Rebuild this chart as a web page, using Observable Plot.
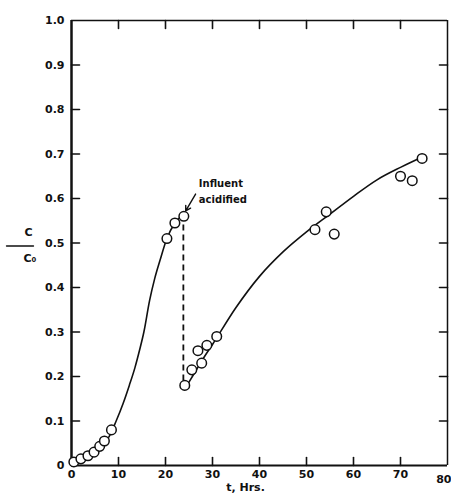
<!DOCTYPE html>
<html><head><meta charset="utf-8">
<script src="https://cdn.jsdelivr.net/npm/d3@7"></script>
<script src="https://cdn.jsdelivr.net/npm/@observablehq/plot@0.6"></script>
<style>
body{margin:0;background:#fff}
#chart{width:451px;height:498px}
#chart svg{font-family:"DejaVu Sans",sans-serif;font-weight:bold}
</style>
</head><body><div id="chart"></div>
<script>
// observed points, before acidification
const tBefore = [0.5, 2, 3.5, 4.8, 6, 7, 8.5, 20.3, 22, 23.9];
const cBefore = [0.008, 0.015, 0.022, 0.03, 0.043, 0.055, 0.08, 0.51, 0.545, 0.56];
// observed points, after acidification
const tAfter = [24.1, 25.6, 27.7, 26.9, 28.8, 30.9, 51.8, 54.2, 55.9, 70, 72.5, 74.6];
const cAfter = [0.18, 0.215, 0.23, 0.258, 0.27, 0.29, 0.53, 0.57, 0.52, 0.65, 0.64, 0.69];
// fitted curve 1
const curve1T = [0, 2, 4, 6, 8, 9.5, 11, 12.3, 13.5, 14.5, 15.4, 16.6, 17.7, 18.8, 20.3, 22, 24];
const curve1C = [0, 0.012, 0.025, 0.042, 0.065, 0.1, 0.14, 0.18, 0.22, 0.26, 0.3, 0.37, 0.42, 0.46, 0.51, 0.545, 0.565];
// fitted curve 2
const curve2T = [24, 26, 28, 30, 35, 40, 45, 50, 55, 60, 65, 70, 75];
const curve2C = [0.17, 0.205, 0.24, 0.272, 0.355, 0.425, 0.48, 0.525, 0.565, 0.605, 0.642, 0.67, 0.695];
// acidification marker
const acidT = 23.8;
const acidFrom = 0.19, acidTo = 0.56;
const noteLines = ["Influent", "acidified"];
const noteT = 27.1;
const noteC = [0.632, 0.596];
const arrowFrom = [26.4, 0.61], arrowTo = [24.3, 0.572];
// axes
const xTicks = [0, 10, 20, 30, 40, 50, 60, 70];
const xLastTick = 80;
const yTicks = [0, 0.1, 0.2, 0.3, 0.4, 0.5, 0.6, 0.7, 0.8, 0.9, 1.0];
const xInner = [10, 20, 30, 40, 50, 60, 70];
const yInner = [0.1, 0.2, 0.3, 0.4, 0.5, 0.6, 0.7, 0.8, 0.9];
const xLabel = "t, Hrs.";

const pts = (t, c) => t.map((d, i) => ({t: d, c: c[i]}));
const line = {draw(ctx, l) { ctx.moveTo(0, 0); ctx.lineTo(0, -l); }};

const chart = Plot.plot({
  width: 451, height: 498,
  marginLeft: 71, marginRight: 4, marginTop: 20, marginBottom: 33,
  x: {domain: [0, 80]},
  y: {domain: [0, 1]},
  style: {fontSize: "11px", color: "#111"},
  marks: [
    Plot.axisX({ticks: xTicks, tickSize: 0, tickPadding: 5, label: null, tickFormat: d => String(d)}),
    Plot.text([xLastTick], {x: d => d, frameAnchor: "bottom", dy: 10, dx: 4, textAnchor: "end", lineAnchor: "top", text: d => String(d), fontSize: 11, fill: "#111"}),
    Plot.axisY({ticks: yTicks, tickSize: 0, tickPadding: 7, label: null, tickFormat: d => d === 0 ? "0" : d.toFixed(1)}),
    // frame
    Plot.ruleX([0], {stroke: "#111", strokeWidth: 2.5}),
    Plot.ruleY([0], {stroke: "#111", strokeWidth: 2.2}),
    Plot.ruleY([1], {stroke: "#111", strokeWidth: 1.5}),
    Plot.ruleX([80], {stroke: "#111", strokeWidth: 1.5}),
    // inward ticks
    Plot.vector(yInner, {y: d => d, frameAnchor: "left", rotate: 90, length: 8, anchor: "start", shape: line, stroke: "#111", strokeWidth: 1.6}),
    Plot.vector(yInner, {y: d => d, frameAnchor: "right", rotate: 270, length: 8, anchor: "start", shape: line, stroke: "#111", strokeWidth: 1.6}),
    Plot.vector(xInner, {x: d => d, frameAnchor: "bottom", rotate: 0, length: 8, anchor: "start", shape: line, stroke: "#111", strokeWidth: 1.6}),
    Plot.vector(xInner, {x: d => d, frameAnchor: "top", rotate: 180, length: 8, anchor: "start", shape: line, stroke: "#111", strokeWidth: 1.6}),
    // curves
    Plot.line(pts(curve1T, curve1C), {x: "t", y: "c", curve: "monotone-x", stroke: "#111", strokeWidth: 1.6}),
    Plot.line(pts(curve2T, curve2C), {x: "t", y: "c", curve: "monotone-x", stroke: "#111", strokeWidth: 1.6}),
    Plot.ruleX([acidT], {y1: acidFrom, y2: acidTo, stroke: "#111", strokeWidth: 1.8, strokeDasharray: "6,4"}),
    // points
    Plot.dot(pts(tBefore, cBefore), {x: "t", y: "c", r: 4.8, stroke: "#111", fill: "white", strokeWidth: 1.5}),
    Plot.dot(pts(tAfter, cAfter), {x: "t", y: "c", r: 4.8, stroke: "#111", fill: "white", strokeWidth: 1.5}),
    // annotation
    Plot.text(noteLines, {x: noteT, y: (d, i) => noteC[i], text: d => d, textAnchor: "start", fontSize: 10, fill: "#111"}),
    Plot.arrow([0], {x1: arrowFrom[0], y1: arrowFrom[1], x2: arrowTo[0], y2: arrowTo[1], stroke: "#111", strokeWidth: 1.4, headLength: 6}),
    // axis labels
    Plot.text([xLabel], {frameAnchor: "bottom", dx: -14, dy: 25, fontSize: 11, fill: "#111"}),
    Plot.text(["C"], {frameAnchor: "left", dx: -47, dy: -11, fontSize: 11, fill: "#111"}),
    Plot.vector([0], {frameAnchor: "left", dx: -65, dy: 3, rotate: 90, length: 27, anchor: "start", shape: line, stroke: "#111", strokeWidth: 1.3}),
    Plot.text(["C\u2080"], {frameAnchor: "left", dx: -48, dy: 15, fontSize: 11, fill: "#111"})
  ]
});
document.getElementById("chart").append(chart);
</script>
</body></html>
